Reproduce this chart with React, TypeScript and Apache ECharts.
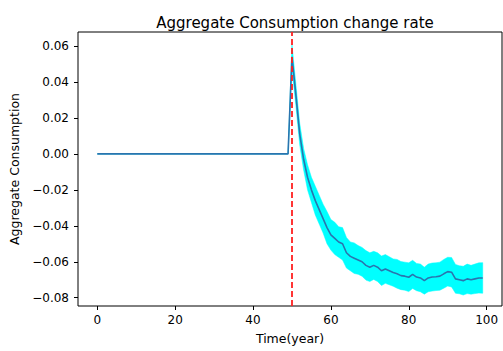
import React, { useEffect, useRef } from "react";
import * as echarts from "echarts";

// Time axis (years 0..99)
const years: number[] = Array.from({ length: 100 }, (_, i) => i);

// Mean aggregate consumption change rate, years 0..49 (pre-shock)
const meanPre: number[] = [
  0, 0, 0, 0, 0, 0, 0, 0, 0, 0,
  0, 0, 0, 0, 0, 0, 0, 0, 0, 0,
  0, 0, 0, 0, 0, 0, 0, 0, 0, 0,
  0, 0, 0, 0, 0, 0, 0, 0, 0, 0,
  0, 0, 0, 0, 0, 0, 0, 0, 0, 0,
];
// years 50..99 (post-shock)
const meanPost: number[] = [
  0.054, 0.033, 0.011, -0.003, -0.013, -0.02, -0.026, -0.031, -0.036, -0.041,
  -0.045, -0.047, -0.049, -0.05, -0.055, -0.057, -0.058, -0.059, -0.06, -0.062,
  -0.063, -0.062, -0.063, -0.065, -0.064, -0.065, -0.066, -0.0667, -0.0677, -0.068,
  -0.0686, -0.067, -0.0685, -0.069, -0.0705, -0.069, -0.0685, -0.0683, -0.068, -0.0667,
  -0.0655, -0.0658, -0.0695, -0.07, -0.0705, -0.0695, -0.07, -0.0695, -0.069, -0.069,
];
// Spread (std) around the mean, years 50..99 (zero before)
const spreadPost: number[] = [
  0.007, 0.006, 0.006, 0.006, 0.007, 0.007, 0.008, 0.008, 0.008, 0.009,
  0.0085, 0.009, 0.0085, 0.009, 0.0085, 0.008, 0.0085, 0.008, 0.008, 0.0082,
  0.008, 0.0078, 0.008, 0.0082, 0.008, 0.0078, 0.0076, 0.008, 0.0078, 0.0078,
  0.008, 0.0078, 0.0076, 0.0077, 0.0075, 0.0077, 0.0078, 0.0077, 0.0078, 0.008,
  0.008, 0.0082, 0.008, 0.0078, 0.008, 0.0082, 0.008, 0.0082, 0.0084, 0.0085,
];

const shockYear = 50;
const xTicks = [0, 20, 40, 60, 80, 100];
const yTicks = [-0.08, -0.06, -0.04, -0.02, 0, 0.02, 0.04, 0.06];

const mean = [...meanPre, ...meanPost];
const spread = [...meanPre.map(() => 0), ...spreadPost];

const FONT = "DejaVu Sans";

const fmtY = (v: any) => {
  const n = Number(v);
  return (n < -1e-9 ? "\u2212" : "") + Math.abs(n).toFixed(2);
};

export default function App() {
  const ref = useRef<HTMLDivElement>(null);
  useEffect(() => {
    if (!ref.current) return;
    const chart = echarts.init(ref.current, undefined, { renderer: "svg" });
    const upper = years.map((t, i) => [t, mean[i] + spread[i]]);
    const lower = years.map((t, i) => [t, mean[i] - spread[i]]);
    const line = years.map((t, i) => [t, mean[i]]);
    chart.setOption({
      animation: false,
      title: {
        text: "Aggregate Consumption change rate",
        left: 290,
        top: 10,
        textAlign: "center",
        textStyle: { fontFamily: FONT, fontSize: 15, fontWeight: "normal", color: "#000" },
      },
      grid: {
        left: 78,
        right: 1,
        top: 32,
        bottom: 45,
        show: true,
        borderColor: "#000",
        borderWidth: 1,
        backgroundColor: "transparent",
      },
      xAxis: {
        type: "value",
        min: -4.95,
        max: 103.95,
        name: "Time(year)",
        nameLocation: "middle",
        nameGap: 26,
        nameTextStyle: { fontFamily: FONT, fontSize: 12.5, color: "#000" },
        axisLine: { show: false, onZero: false },
        splitLine: { show: false },
        axisTick: { show: true, customValues: xTicks, length: 4, inside: false, lineStyle: { color: "#000" } },
        axisLabel: {
          customValues: xTicks,
          margin: 8,
          fontFamily: FONT,
          fontSize: 12,
          color: "#000",
          formatter: (v: any) => String(Number(v)),
        },
      },
      yAxis: {
        type: "value",
        min: -0.0846,
        max: 0.0678,
        name: "Aggregate Consumption",
        nameLocation: "middle",
        nameGap: 55,
        nameTextStyle: { fontFamily: FONT, fontSize: 12.5, color: "#000" },
        axisLine: { show: false, onZero: false },
        splitLine: { show: false },
        axisTick: { show: true, customValues: yTicks, length: 4, lineStyle: { color: "#000" } },
        axisLabel: {
          customValues: yTicks,
          margin: 9,
          fontFamily: FONT,
          fontSize: 12,
          color: "#000",
          formatter: fmtY,
        },
      },
      series: [
        {
          type: "custom",
          silent: true,
          z: 1,
          data: [0],
          renderItem: (_params: any, api: any) => {
            const pts = upper
              .map((p) => api.coord(p))
              .concat(lower.slice().reverse().map((p) => api.coord(p)));
            return {
              type: "polygon",
              shape: { points: pts },
              style: { fill: "#00ffff", stroke: "#00ffff", lineWidth: 0.5 },
            };
          },
        },
        {
          type: "line",
          data: line,
          symbol: "none",
          lineStyle: { color: "#2a74ae", width: 1.6 },
          z: 3,
          markLine: {
            silent: true,
            symbol: "none",
            label: { show: false },
            lineStyle: { color: "#ff2020", width: 1.8, type: [6, 3] },
            data: [{ xAxis: shockYear }],
          },
        },
      ],
    });
    return () => chart.dispose();
  }, []);
  return (
    <div
      ref={ref}
      style={{ position: "fixed", left: 0, top: 0, width: 503, height: 351, background: "#fff" }}
    />
  );
}
